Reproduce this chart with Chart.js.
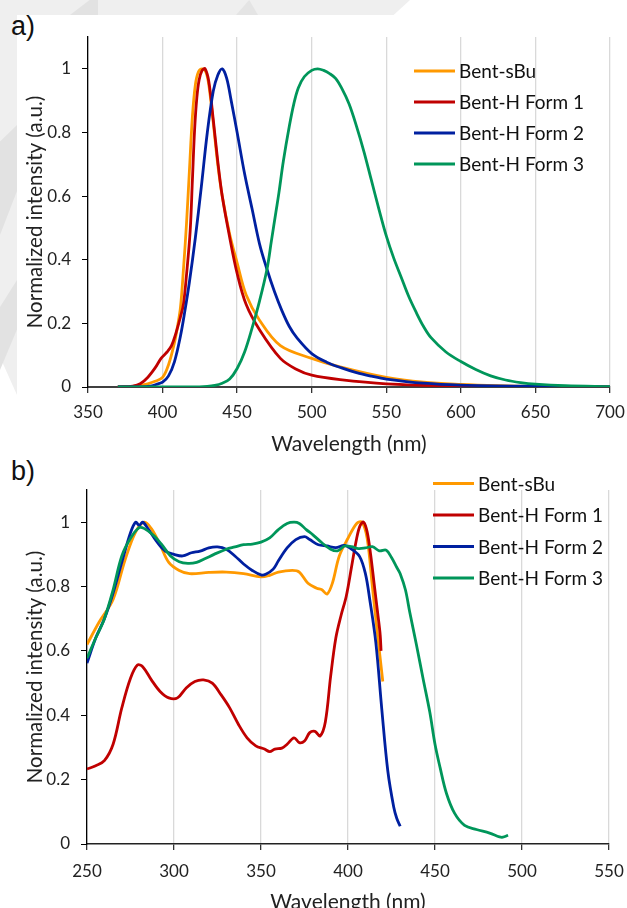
<!DOCTYPE html>
<html>
<head>
<meta charset="utf-8">
<script src="https://cdn.jsdelivr.net/npm/chart.js@4.4.1/dist/chart.umd.min.js"></script>
<style>
    body { margin: 0; background: #fff; width: 627px; height: 908px; position: relative; overflow: hidden; }
    canvas { position: absolute; left: 0; }
    #emission { top: 0; }
    #excitation { top: 454px; }
    .tag { position: absolute; left: 11px; font: 27px "Liberation Sans", Arial, sans-serif; color: #111; }
    .wm { position: absolute; background: #efefef; }
</style>
</head>
<body>
<div class="wm" style="left:0;top:0;width:410px;height:15px;clip-path:polygon(0 0,100% 0,96% 100%,0 100%)"></div>
<div class="wm" style="left:0;top:15px;width:17px;height:380px;clip-path:polygon(0 0,100% 0,100% 100%,0 90%)"></div>
<div class="wm" style="left:70px;top:0;width:28px;height:15px;background:#e2e2e2;clip-path:polygon(70% 0,100% 0,100% 100%,0 100%)"></div>
<div class="wm" style="left:236px;top:0;width:22px;height:15px;background:#e4e4e4;clip-path:polygon(0 100%,60% 0,100% 100%)"></div>
<div class="wm" style="left:0;top:125px;width:17px;height:110px;background:#e2e2e2;clip-path:polygon(0 15%,100% 0,100% 60%,0 100%)"></div>
<div class="wm" style="left:0;top:280px;width:17px;height:90px;background:#e2e2e2;clip-path:polygon(0 30%,100% 0,100% 55%,0 100%)"></div>
<div class="tag" style="top:11px">a)</div>
<div class="tag" style="top:456px">b)</div>
<canvas id="emission" width="627" height="457"></canvas>
<canvas id="excitation" width="627" height="461"></canvas>
<script>
// ---- a) emission spectra ----
const emSBuX = [370, 380, 385, 390, 395, 400, 404, 408, 410, 412, 414, 416, 418, 420, 422, 424, 426.5, 429, 431, 434, 437, 440, 445, 450, 456, 465, 479, 500, 519, 550, 575, 600, 625, 650, 700];
const emSBuY = [0, 0.002, 0.005, 0.01, 0.018, 0.03, 0.07, 0.14, 0.19, 0.25, 0.37, 0.51, 0.68, 0.85, 0.95, 0.99, 1.0, 0.99, 0.95, 0.83, 0.7, 0.6, 0.48, 0.39, 0.29, 0.21, 0.13, 0.09, 0.063, 0.03, 0.015, 0.008, 0.004, 0.002, 0];

const emF1X = [370, 380, 385, 390, 395, 399, 403, 406, 409, 412, 414, 416, 418.5, 420, 421.5, 423, 424.5, 426.5, 428.5, 431, 434, 437, 440, 445, 450, 456, 465, 479, 490, 500, 519, 550, 600, 650, 700];
const emF1Y = [0, 0.003, 0.01, 0.03, 0.06, 0.09, 0.11, 0.13, 0.17, 0.22, 0.26, 0.35, 0.49, 0.65, 0.81, 0.91, 0.965, 0.995, 1.0, 0.96, 0.84, 0.71, 0.6, 0.47, 0.357, 0.26, 0.18, 0.09, 0.055, 0.037, 0.023, 0.01, 0.003, 0.001, 0];

const emF2X = [370, 385, 392, 397, 400, 404, 408, 412, 415, 418, 422, 426, 430, 434, 437, 440, 443, 446, 450, 455, 460, 465, 470, 475, 480, 485, 490, 500, 510, 520, 530, 540, 550, 575, 600, 650, 700];
const emF2Y = [0, 0, 0.003, 0.01, 0.015, 0.035, 0.08, 0.16, 0.24, 0.33, 0.47, 0.63, 0.8, 0.93, 0.98, 1.0, 0.97, 0.9, 0.8, 0.67, 0.56, 0.45, 0.37, 0.3, 0.24, 0.19, 0.155, 0.105, 0.078, 0.06, 0.045, 0.034, 0.025, 0.012, 0.006, 0.002, 0];

const emF3X = [370, 420, 430, 435, 440, 445, 450, 455, 460, 465, 470, 473, 476, 478, 481, 485, 488, 491, 495, 500, 504, 508, 512, 516, 520, 525, 530, 535, 540, 545, 550, 555, 560, 565, 570, 575, 580, 590, 600, 610, 620, 630, 640, 650, 670, 700];
const emF3Y = [0, 0, 0.002, 0.005, 0.012, 0.025, 0.058, 0.11, 0.185, 0.27, 0.37, 0.46, 0.55, 0.61, 0.71, 0.82, 0.89, 0.94, 0.975, 0.995, 1.0, 0.995, 0.985, 0.97, 0.94, 0.89, 0.82, 0.74, 0.65, 0.56, 0.475, 0.405, 0.345, 0.285, 0.235, 0.19, 0.155, 0.11, 0.08, 0.055, 0.035, 0.022, 0.014, 0.009, 0.004, 0.001];

// ---- b) excitation spectra ----
const exSBuX = [250, 257, 265, 272, 278, 283, 287, 292, 297, 303, 309, 320, 330, 340, 350, 355, 360, 368, 372, 377, 382, 385, 388, 391, 395, 400, 405, 408, 411, 414, 417, 420];
const exSBuY = [0.62, 0.69, 0.76, 0.885, 0.97, 1.0, 0.98, 0.93, 0.875, 0.85, 0.84, 0.844, 0.845, 0.84, 0.83, 0.835, 0.845, 0.85, 0.845, 0.81, 0.795, 0.79, 0.777, 0.81, 0.895, 0.95, 0.996, 1.0, 0.95, 0.8, 0.65, 0.505];

const exF1X = [250, 255, 260, 265, 270, 275, 279, 282, 287, 292, 297, 302, 307, 312, 317, 322, 327, 332, 337, 342, 347, 352, 355, 358, 362, 365, 369, 372, 375, 378, 381, 384, 387, 390, 393, 396, 399, 402, 405, 407, 409, 411, 413, 415, 417, 418.5, 419];
const exF1Y = [0.233, 0.243, 0.259, 0.31, 0.423, 0.515, 0.556, 0.551, 0.51, 0.474, 0.454, 0.454, 0.485, 0.505, 0.51, 0.5, 0.464, 0.423, 0.372, 0.33, 0.305, 0.295, 0.287, 0.295, 0.298, 0.31, 0.33, 0.315, 0.32, 0.346, 0.35, 0.336, 0.38, 0.52, 0.64, 0.71, 0.77, 0.86, 0.95, 0.99, 1.0, 0.97, 0.9, 0.81, 0.72, 0.65, 0.6];

const exF2X = [250, 255, 260, 265, 270, 275, 278, 280, 282, 285, 290, 295, 300, 305, 310, 315, 320, 325, 330, 335, 340, 345, 350, 353, 357, 360, 365, 370, 375, 378, 383, 388, 393, 398, 402, 406.7, 410, 412.5, 416, 419.4, 422.9, 426.3, 428, 430];
const exF2Y = [0.562, 0.64, 0.7, 0.78, 0.875, 0.967, 1.0, 0.99, 1.0, 0.98, 0.94, 0.91, 0.9, 0.895, 0.905, 0.91, 0.92, 0.923, 0.916, 0.895, 0.87, 0.85, 0.836, 0.839, 0.854, 0.88, 0.92, 0.946, 0.955, 0.946, 0.93, 0.926, 0.921, 0.928, 0.916, 0.893, 0.84, 0.76, 0.626, 0.42, 0.226, 0.114, 0.08, 0.055];

const exF3X = [250, 255, 260, 265, 270, 275, 280, 283, 288, 293, 298, 303, 308, 313, 318, 323, 330, 335, 340, 345, 350, 355, 360, 365, 369, 372, 376, 380, 385, 390, 394, 398, 402, 406, 410, 414, 418, 422, 425, 428, 430, 433, 435.5, 439.3, 443.1, 447, 450, 452.9, 456.6, 461.3, 467, 473.8, 481.4, 487.1, 489, 492];
const exF3Y = [0.577, 0.64, 0.7, 0.79, 0.895, 0.95, 0.983, 0.98, 0.96, 0.93, 0.895, 0.877, 0.872, 0.875, 0.887, 0.9, 0.916, 0.923, 0.93, 0.932, 0.938, 0.951, 0.977, 0.996, 1.0, 0.996, 0.977, 0.96, 0.936, 0.916, 0.911, 0.926, 0.924, 0.918, 0.92, 0.924, 0.911, 0.913, 0.89, 0.86, 0.84, 0.79, 0.72, 0.62, 0.515, 0.41, 0.31, 0.238, 0.157, 0.095, 0.058, 0.045, 0.034, 0.022, 0.021, 0.027];

const seriesLabels = ['Bent-sBu', 'Bent-H Form 1', 'Bent-H Form 2', 'Bent-H Form 3'];
const seriesColors = ['#FF9900', '#C00000', '#0020A0', '#00965A'];
const yTicks = [0, 0.2, 0.4, 0.6, 0.8, 1];

const FONT = 'Lato, "Open Sans", sans-serif';

function pts(xs, ys) {
    return xs.map((x, i) => ({ x: x, y: ys[i] }));
}

function makeDatasets(pairs) {
    return pairs.map((p, i) => ({
        label: seriesLabels[i],
        data: pts(p[0], p[1]),
        borderColor: seriesColors[i],
        backgroundColor: seriesColors[i],
        order: 4 - i,
    }));
}

// legend drawn at a fixed spot inside the figure, like the original
const boxLegend = {
    id: 'boxLegend',
    afterDraw(chart, args, opts) {
        const ctx = chart.ctx;
        ctx.save();
        ctx.font = opts.size + 'px ' + FONT;
        ctx.textBaseline = 'middle';
        chart.data.datasets.forEach((ds, i) => {
            const y = opts.y + i * opts.gap;
            ctx.strokeStyle = ds.borderColor;
            ctx.lineWidth = 3;
            ctx.beginPath();
            ctx.moveTo(opts.x, y);
            ctx.lineTo(opts.x + opts.len, y);
            ctx.stroke();
            ctx.fillStyle = '#111';
            ctx.fillText(ds.label, opts.x + opts.len + 4, y + 1);
        });
        ctx.restore();
    }
};

function makeOptions(cfg) {
    return {
        responsive: false,
        animation: false,
        devicePixelRatio: 1,
        layout: { padding: { top: cfg.top, right: cfg.right, left: 0, bottom: 0 } },
        plugins: {
            legend: { display: false },
            tooltip: { enabled: false },
            boxLegend: cfg.legend,
        },
        elements: {
            point: { radius: 0 },
            line: { borderWidth: 2.8, tension: 0.35 },
        },
        scales: {
            x: {
                type: 'linear',
                min: cfg.xMin,
                max: cfg.xMax,
                ticks: { stepSize: 50, color: '#222', font: { family: FONT, size: 17 }, padding: cfg.tickPad, maxRotation: 0 },
                grid: { color: '#d9d9d9', lineWidth: 1.3, tickColor: '#333', tickLength: 6 },
                border: { color: cfg.xAxisColor, width: cfg.xAxisWidth },
                title: { display: true, text: 'Wavelength (nm)', color: '#222', font: { family: FONT, size: 21 }, padding: { top: 2, bottom: 0 } },
                afterFit(s) {
                    s.height = cfg.xHeight;
                    s.paddingLeft = 0;
                    s.paddingRight = 0;
                },
            },
            y: {
                min: 0,
                max: 1.1,
                afterBuildTicks(s) { s.ticks = yTicks.map(v => ({ value: v })); },
                ticks: {
                    color: '#222', font: { family: FONT, size: 17 }, padding: 11,
                    callback: v => String(Number(v.toFixed(1))),
                },
                grid: { drawOnChartArea: false, tickColor: '#000', tickLength: 6 },
                border: { color: '#000', width: 1.3 },
                title: { display: true, text: 'Normalized intensity (a.u.)', color: '#222', font: { family: FONT, size: 20.5 }, padding: { top: 23 } },
                afterFit(s) {
                    s.width = cfg.yWidth;
                    s.paddingTop = 0;
                    s.paddingBottom = 0;
                },
            },
        },
    };
}

new Chart(document.getElementById('emission'), {
    type: 'line',
    data: { datasets: makeDatasets([[emSBuX, emSBuY], [emF1X, emF1Y], [emF2X, emF2Y], [emF3X, emF3Y]]) },
    options: makeOptions({
        top: 37, right: 17, yWidth: 88, xHeight: 70, tickPad: 9, xMin: 350, xMax: 700,
        xAxisColor: '#404040', xAxisWidth: 2,
        legend: { x: 414, y: 71, gap: 31, len: 41, size: 19 },
    }),
    plugins: [boxLegend],
});

new Chart(document.getElementById('excitation'), {
    type: 'line',
    data: { datasets: makeDatasets([[exSBuX, exSBuY], [exF1X, exF1Y], [exF2X, exF2Y], [exF3X, exF3Y]]) },
    options: makeOptions({
        top: 36, right: 18, yWidth: 87, xHeight: 71, tickPad: 11, xMin: 250, xMax: 550,
        xAxisColor: '#222', xAxisWidth: 1.5,
        legend: { x: 433, y: 29.5, gap: 31.5, len: 41, size: 19 },
    }),
    plugins: [boxLegend],
});
</script>
</body>
</html>
